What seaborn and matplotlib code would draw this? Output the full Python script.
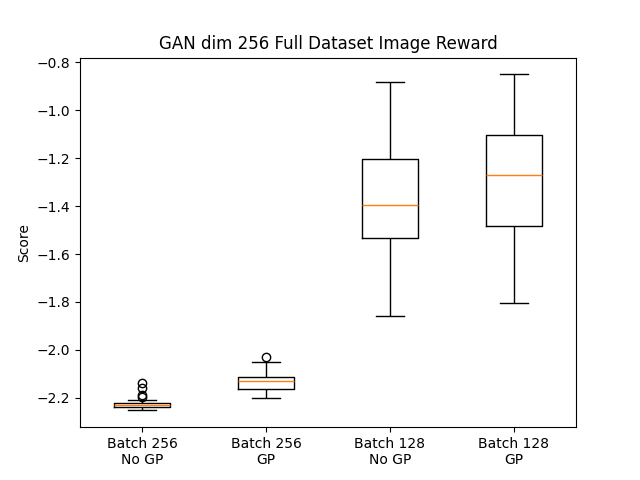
import matplotlib
matplotlib.use("Agg")
import matplotlib.pyplot as plt
import seaborn as sns
import pandas as pd

categories = ["Batch 256\nNo GP", "Batch 256\nGP", "Batch 128\nNo GP", "Batch 128\nGP"]
whisker_low = [-2.253, -2.200, -1.858, -1.804]
q1 = [-2.239, -2.164, -1.533, -1.483]
median = [-2.232, -2.129, -1.396, -1.271]
q3 = [-2.222, -2.112, -1.204, -1.104]
whisker_high = [-2.208, -2.051, -0.883, -0.850]
outliers = [[-2.137, -2.158, -2.188, -2.196], [-2.030], [], []]

# Build a sample per group that reproduces the read five-number summary exactly
rows = []
for i, cat in enumerate(categories):
    vals = ([whisker_low[i]] * 5 + [q1[i]] * 5 + [median[i]] * 5
            + [q3[i]] + [whisker_high[i]])
    extra = outliers[i]
    pad = 4 - len(extra)
    vals = vals + [whisker_high[i]] * pad + extra
    for v in vals:
        rows.append({"group": cat, "score": v})
df = pd.DataFrame(rows)

fig, ax = plt.subplots(figsize=(6.4, 4.8), dpi=100)
sns.boxplot(
    data=df, x="group", y="score", order=categories, ax=ax,
    fill=False, width=0.45, color="black", linewidth=1,
    boxprops=dict(color="black"),
    whiskerprops=dict(color="black"),
    capprops=dict(color="black"),
    medianprops=dict(color="#ff7f0e", linewidth=1),
    flierprops=dict(marker="o", markerfacecolor="none", markeredgecolor="black",
                    markersize=6, markeredgewidth=1),
    whis=1.5,
)
ax.set_xlabel("")
ax.set_ylabel("Score")
ax.set_title("GAN dim 256 Full Dataset Image Reward")
fig.savefig("out.png", dpi=100)
